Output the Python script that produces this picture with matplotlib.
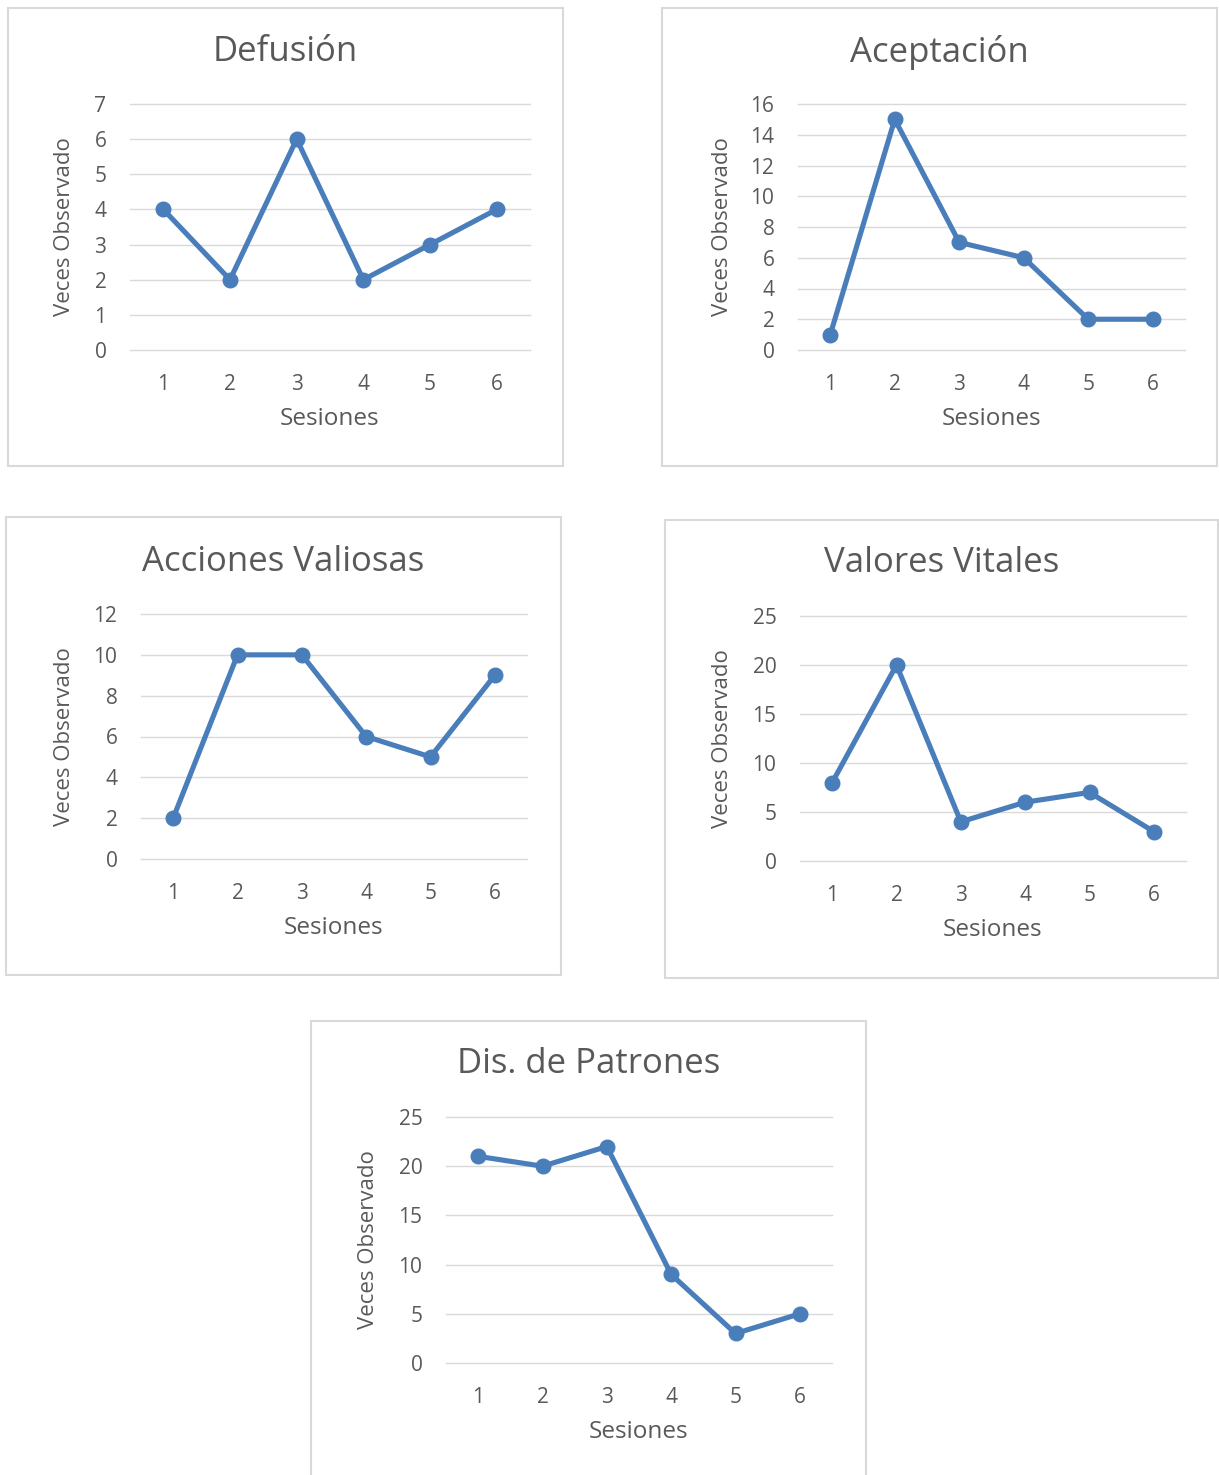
import matplotlib
matplotlib.use("Agg")
import matplotlib.pyplot as plt
from matplotlib.patches import Rectangle

plt.rcParams['font.family'] = ['Open Sans', 'DejaVu Sans']

# data
sesiones = [1, 2, 3, 4, 5, 6]
titles = ["Defusión", "Aceptación", "Acciones Valiosas", "Valores Vitales", "Dis. de Patrones"]
defusion = [4, 2, 6, 2, 3, 4]
aceptacion = [1, 15, 7, 6, 2, 2]
acciones = [2, 10, 10, 6, 5, 9]
valores = [8, 20, 4, 6, 7, 3]
patrones = [21, 20, 22, 9, 3, 5]
series = [defusion, aceptacion, acciones, valores, patrones]
ymax = [7, 16, 12, 25, 25]
ystep = [1, 2, 2, 5, 5]

W, H = 1219, 1475
LINE = "#4a7ebb"
TXT = "#595959"
GRID = "#d9d9d9"

# layout in pixels: box (x0, y0, x1, y1), axes (x0, y0, x1, y1), ylabel x, title y
layout = [
    ((8, 8, 563, 466), (130, 104, 530, 350), 65, 52),
    ((662, 8, 1217, 466), (798, 104, 1185, 350), 722, 52),
    ((6, 517, 561, 975), (141, 614, 527, 859), 64, 562),
    ((665, 520, 1218, 978), (800, 616, 1186, 861), 722, 563),
    ((311, 1021, 866, 1490), (446, 1117, 832, 1363), 369, 1064),
]

fig = plt.figure(figsize=(W / 100, H / 100), dpi=100)

for i in range(5):
    box, axp, ylx, ty = layout[i]
    fig.patches.append(Rectangle((box[0] / W, 1 - box[3] / H), (box[2] - box[0]) / W,
                                 (box[3] - box[1]) / H, transform=fig.transFigure,
                                 fill=False, edgecolor=GRID, linewidth=1.5))
    ax = fig.add_axes([axp[0] / W, 1 - axp[3] / H, (axp[2] - axp[0]) / W, (axp[3] - axp[1]) / H])
    ax.plot(sesiones, series[i], color=LINE, linewidth=3.7, marker="o", markersize=10.5,
            solid_capstyle="round", clip_on=False, zorder=3)
    ax.set_xlim(0.5, 6.5)
    ax.set_ylim(0, ymax[i])
    ax.set_yticks(range(0, ymax[i] + 1, ystep[i]))
    ax.set_xticks(sesiones)
    ax.grid(axis="y", color=GRID, linewidth=1)
    for gl in ax.get_ygridlines():
        gl.set_clip_on(False)
    ax.set_axisbelow(True)
    for s in ax.spines.values():
        s.set_visible(False)
    ax.tick_params(length=0, labelsize=15, labelcolor=TXT)
    ax.tick_params(axis="y", pad=17)
    ax.tick_params(axis="x", pad=17)
    ax.set_xlabel("Sesiones", fontsize=17.5, color=TXT)
    ax.set_ylabel("Veces Observado", fontsize=16, color=TXT)
    aw = axp[2] - axp[0]
    ah = axp[3] - axp[1]
    ax.xaxis.set_label_coords(0.5, -(69 / ah))
    ax.yaxis.set_label_coords((ylx - axp[0]) / aw, 0.5)
    ax.xaxis.label.set_va("center")
    ax.yaxis.label.set_va("center")
    fig.text((box[0] + box[2]) / 2 / W, 1 - ty / H, titles[i], fontsize=25, color=TXT,
             ha="center", va="center")

fig.savefig("out.png", dpi=100, facecolor="white")
